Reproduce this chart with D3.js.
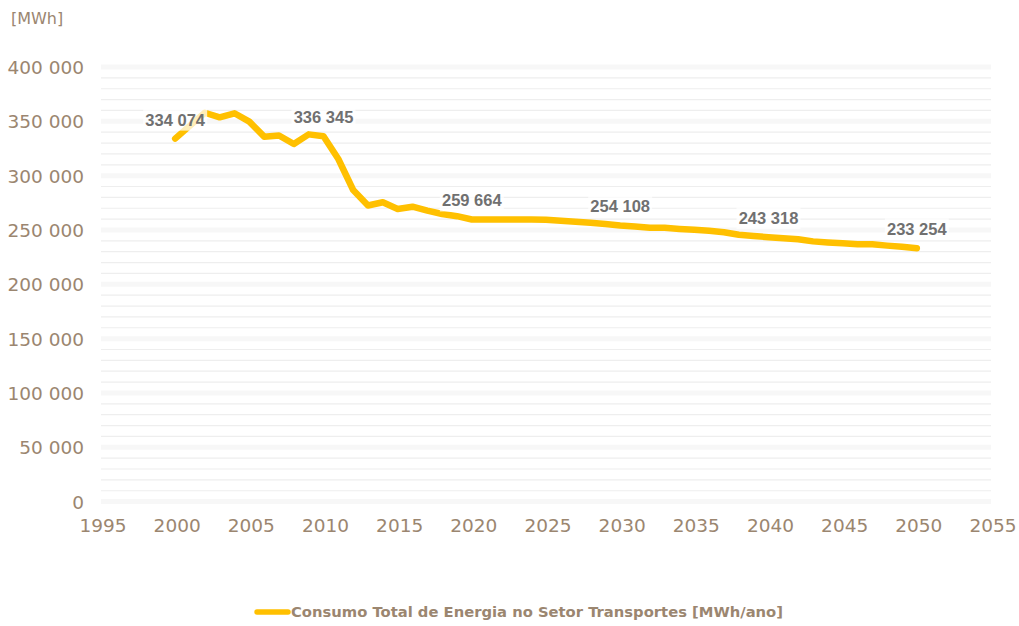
<!DOCTYPE html>
<html><head><meta charset="utf-8">
<script src="https://cdn.jsdelivr.net/npm/d3@7"></script>
<style>html,body{margin:0;padding:0;background:#fff;}svg{display:block;}</style>
</head><body>
<svg id="chart" width="1019" height="626"></svg>
<script>
const years = d3.range(2000, 2051);
const consumo = [
  334074, 346000, 357900, 353700, 357400, 349700, 335900, 337000, 329100, 338000,
  336345, 315300, 286800, 272500, 275500, 269300, 271400, 267800, 264700, 262700,
  259664, 259600, 259600, 259600, 259600, 259500, 258500, 257600, 256600, 255500,
  254108, 253200, 252100, 252000, 251000, 250100, 249200, 247900, 245600, 244500,
  243318, 242400, 241500, 239500, 238500, 237700, 236900, 236800, 235600, 234500,
  233254
];
const labelYears = [2000, 2010, 2020, 2030, 2040, 2050];
const xTicks = [1995, 2000, 2005, 2010, 2015, 2020, 2025, 2030, 2035, 2040, 2045, 2050, 2055];
const yMajor = [0, 50000, 100000, 150000, 200000, 250000, 300000, 350000, 400000];
const yMinor = d3.range(10000, 400000, 10000).filter(v => v % 50000 !== 0);
const unitLabel = "[MWh]";
const legendLabel = "Consumo Total de Energia no Setor Transportes [MWh/ano]";

const svg = d3.select("#chart");
const x = d3.scaleLinear().domain([1995, 2055]).range([101, 991]);
const y = d3.scaleLinear().domain([0, 400000]).range([501.6, 67]);
const fmt = v => d3.format(",")(v).replace(/,/g, " ");
const tickColor = "#9b8670";

// gridlines
svg.append("g").selectAll("line").data(yMinor).join("line")
  .attr("x1", x(1995)).attr("x2", x(2055))
  .attr("y1", d => y(d)).attr("y2", d => y(d))
  .attr("stroke", "#eeeeee").attr("stroke-width", 1.2);
svg.append("g").selectAll("line").data(yMajor).join("line")
  .attr("x1", x(1995)).attr("x2", x(2055))
  .attr("y1", d => y(d)).attr("y2", d => y(d))
  .attr("stroke", "#f7f7f7").attr("stroke-width", 5);

// y axis
const yAxis = svg.append("g").attr("transform", "translate(84,0)")
  .call(d3.axisLeft(y).tickValues(yMajor).tickFormat(fmt).tickSize(0).tickPadding(0));
yAxis.select(".domain").remove();
yAxis.selectAll("text").attr("font-family", "DejaVu Sans").attr("font-size", 18.5)
  .attr("fill", tickColor).attr("dy", "0.35em");

// x axis
const xAxis = svg.append("g").attr("transform", "translate(1.5,518.5)")
  .call(d3.axisBottom(x).tickValues(xTicks).tickFormat(d3.format("d")).tickSize(0).tickPadding(0));
xAxis.select(".domain").remove();
xAxis.selectAll("text").attr("font-family", "DejaVu Sans").attr("font-size", 18.5)
  .attr("fill", tickColor).attr("dy", "0.71em");

// unit label
svg.append("text").attr("x", 11).attr("y", 24).text(unitLabel)
  .attr("font-family", "DejaVu Sans").attr("font-size", 16).attr("fill", tickColor);

// line
const data = years.map((yr, i) => ({yr, v: consumo[i]}));
svg.append("path").datum(data)
  .attr("d", d3.line().x(d => x(d.yr)).y(d => y(d.v)))
  .attr("fill", "none").attr("stroke", "#ffc000").attr("stroke-width", 6.5)
  .attr("stroke-linejoin", "round").attr("stroke-linecap", "round");

// data labels
const lbl = svg.append("g").selectAll("g").data(data.filter(d => labelYears.includes(d.yr))).join("g")
  .attr("transform", d => `translate(${x(d.yr)},${y(d.v) - 19})`);
lbl.append("rect").attr("x", -32).attr("y", -11).attr("width", 64).attr("height", 22)
  .attr("fill", "#fff").attr("fill-opacity", 0.72);
lbl.append("text").text(d => fmt(d.v)).attr("text-anchor", "middle").attr("dy", "0.36em")
  .attr("font-family", "Liberation Sans, Arial").attr("font-weight", "bold").attr("font-size", 16.5)
  .attr("fill", "#707070");

// legend
svg.append("line").attr("x1", 257).attr("x2", 288).attr("y1", 612).attr("y2", 612)
  .attr("stroke", "#ffc000").attr("stroke-width", 5.5).attr("stroke-linecap", "round");
svg.append("text").attr("x", 291).attr("y", 612).attr("dy", "0.35em").text(legendLabel)
  .attr("font-family", "DejaVu Sans").attr("font-weight", "bold").attr("font-size", 14)
  .attr("fill", tickColor).attr("textLength", 492).attr("lengthAdjust", "spacingAndGlyphs");
</script>
</body></html>
